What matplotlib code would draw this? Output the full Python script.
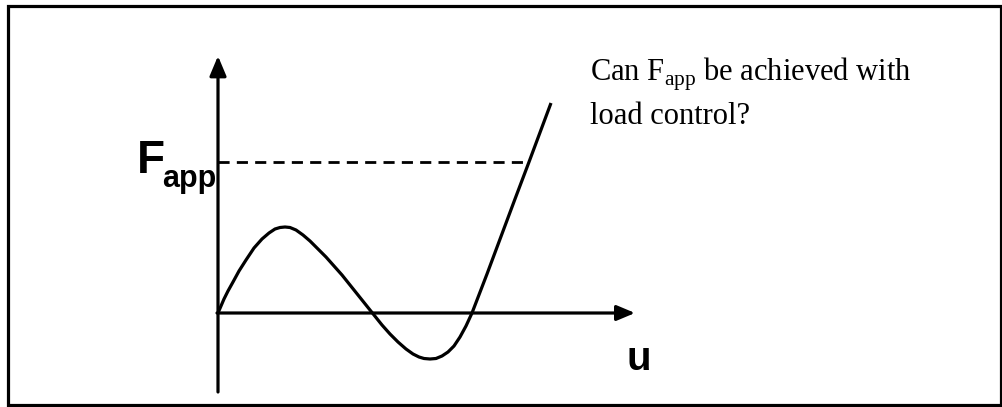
import matplotlib
matplotlib.use('Agg')
import matplotlib.pyplot as plt
from matplotlib.patches import Rectangle, ArrowStyle

plt.rcParams['mathtext.fontset'] = 'custom'
plt.rcParams['mathtext.rm'] = 'Liberation Serif'

# curve (u, F), origin at the axes crossing
u_vals = [0, 3, 6, 10, 15, 21, 28, 36, 44, 51, 57, 62, 67, 72, 78, 85,
          92, 100, 108, 116, 124, 132, 140, 148, 156, 164, 172, 180, 188,
          195, 201, 206, 212, 218, 224, 230, 236, 242, 248, 254,
          269, 297, 311, 333]
f_vals = [0, 7, 14, 22, 31, 42, 53, 65, 74, 80, 84, 85.5, 86, 85.5, 83, 78,
          72, 64, 56, 47, 38, 28, 18, 8, -2, -12, -21, -29, -36,
          -41, -44, -45.5, -46, -45.5, -43, -39, -33, -24, -13, 0,
          39, 114, 151, 210]
f_app = 151          # dashed level
u_app = 311          # where the curve meets it

fig = plt.figure(figsize=(10.03, 4.07), dpi=100)
ax = fig.add_axes([0, 0, 1, 1])
ax.set_xlim(-218, 785)
ax.set_ylim(-94, 313)
ax.axis('off')

# frame round the picture
ax.add_patch(Rectangle((-210.5, -92), 994, 399.5, fill=False, lw=2.3, ec='black'))

# axes with arrow heads
head = ArrowStyle('-|>', head_length=1.0, head_width=0.42)
ax.annotate('', xy=(0, 257), xytext=(0, -79),
            arrowprops=dict(arrowstyle=head, lw=2.3, color='black', mutation_scale=12,
                            shrinkA=0, shrinkB=0))
ax.annotate('', xy=(417, 0), xytext=(-1, 0),
            arrowprops=dict(arrowstyle=head, lw=2.3, color='black', mutation_scale=11,
                            shrinkA=0, shrinkB=0))

# curve and dashed F_app level
ax.plot(u_vals, f_vals, color='black', lw=2.3, solid_capstyle='butt', solid_joinstyle='round')
ax.plot([0, u_app], [f_app, f_app], color='black', lw=2.0, dashes=(4, 2.6))

# labels
narrow = ['Liberation Sans Narrow', 'Liberation Sans', 'DejaVu Sans']
ax.text(-81, 140, 'F', fontsize=33, fontweight='bold', family=narrow, ha='left', va='baseline')
ax.text(-56, 126, 'app', fontsize=22, fontweight='bold', family=narrow, ha='left', va='baseline')
ax.text(409, -57, 'u', fontsize=29, fontweight='bold', family=narrow, ha='left', va='baseline')

ax.text(372, 232, r'Can F$_{\mathregular{app}}$ be achieved with', fontsize=22,
        family='Liberation Serif', ha='left', va='baseline')
ax.text(372, 189, 'load control?', fontsize=22,
        family='Liberation Serif', ha='left', va='baseline')

fig.savefig('out.png', dpi=100)
